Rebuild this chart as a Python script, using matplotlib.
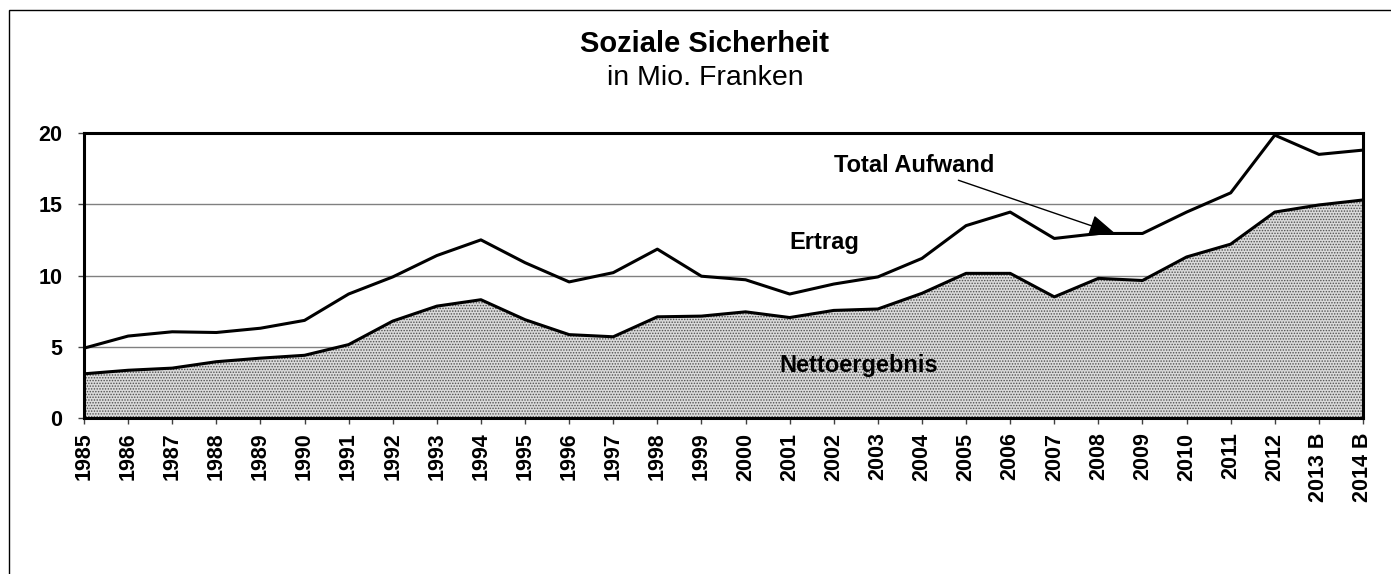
import matplotlib
matplotlib.use("Agg")
import matplotlib.pyplot as plt
from matplotlib.patches import Rectangle

plt.rcParams['font.family'] = ['Liberation Sans', 'DejaVu Sans']
plt.rcParams['hatch.color'] = '#505050'
plt.rcParams['hatch.linewidth'] = 0.7

years = ["1985", "1986", "1987", "1988", "1989", "1990", "1991", "1992", "1993", "1994",
         "1995", "1996", "1997", "1998", "1999", "2000", "2001", "2002", "2003", "2004",
         "2005", "2006", "2007", "2008", "2009", "2010", "2011", "2012", "2013 B", "2014 B"]
total_aufwand = [4.9, 5.75, 6.05, 6.0, 6.3, 6.85, 8.7, 9.9, 11.4, 12.5,
                 10.9, 9.55, 10.2, 11.85, 9.95, 9.7, 8.7, 9.4, 9.9, 11.2,
                 13.5, 14.45, 12.6, 12.95, 12.95, 14.45, 15.8, 19.85, 18.5, 18.8]
nettoergebnis = [3.1, 3.35, 3.5, 3.95, 4.2, 4.4, 5.15, 6.8, 7.85, 8.3,
                 6.9, 5.85, 5.7, 7.1, 7.15, 7.45, 7.05, 7.55, 7.65, 8.75,
                 10.15, 10.15, 8.5, 9.8, 9.65, 11.3, 12.2, 14.45, 14.95, 15.3]
y_ticks = [0, 5, 10, 15, 20]

fig = plt.figure(figsize=(13.91, 5.74), dpi=100)
fig.patches.append(Rectangle((9 / 1391, -0.1), 1.2, 1.1 - 10 / 574,
                             transform=fig.transFigure, fill=False,
                             edgecolor='black', linewidth=1.0))

ax = fig.add_axes([84 / 1391, 1 - 418 / 574, (1363 - 84) / 1391, (418 - 133) / 574])
x = list(range(len(years)))

ax.fill_between(x, 0, nettoergebnis, facecolor='#dadada', hatch='......',
                edgecolor='none', linewidth=0, zorder=2)
ax.plot(x, total_aufwand, color='black', linewidth=2.2, zorder=3)
ax.plot(x, nettoergebnis, color='black', linewidth=2.2, zorder=3)

ax.set_xlim(0, len(years) - 1)
ax.set_ylim(0, 20)
ax.set_yticks(y_ticks)
ax.set_yticklabels([str(v) for v in y_ticks], fontsize=15.5, fontweight='bold')
ax.set_xticks(x)
ax.set_xticklabels(years, rotation=90, fontsize=15.5, fontweight='bold')
ax.yaxis.grid(True, color='#808080', linewidth=1.0, zorder=0)
ax.set_axisbelow(True)
for s in ax.spines.values():
    s.set_linewidth(2.2)
    s.set_zorder(4)
ax.tick_params(axis='both', direction='out', length=4.5, width=1, color='#404040')
ax.tick_params(axis='y', pad=11)
ax.tick_params(axis='x', pad=6)

ax.text(16.78, 12.35, "Ertrag", fontsize=17, fontweight='bold', ha='center', va='center', zorder=5)
ax.text(17.57, 3.65, "Nettoergebnis", fontsize=17, fontweight='bold', ha='center', va='center', zorder=5)
ax.annotate("Total Aufwand", xy=(23.4, 12.9), xytext=(18.82, 17.75),
            fontsize=17, fontweight='bold', ha='center', va='center', zorder=5,
            arrowprops=dict(arrowstyle='-|>,head_length=1.0,head_width=0.4',
                            color='black', linewidth=1.0, shrinkA=2, shrinkB=0))

fig.text(705 / 1391, 1 - 44 / 574, "Soziale Sicherheit", fontsize=21, fontweight='bold',
         ha='center', va='center')
fig.text(705 / 1391, 1 - 78 / 574, "in Mio. Franken", fontsize=20.5,
         ha='center', va='center')

fig.savefig("out.png", dpi=100)
